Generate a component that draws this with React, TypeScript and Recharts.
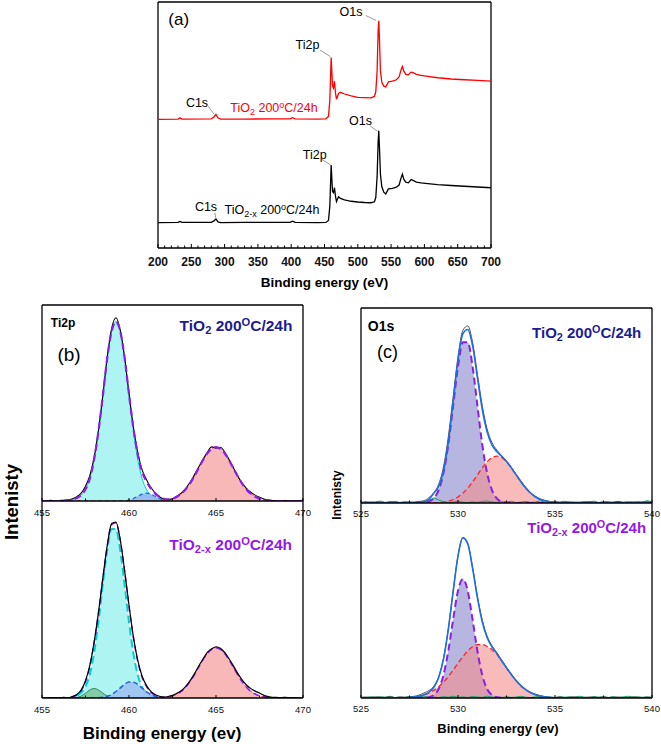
import React from "react";
import { ComposedChart, Line, Area, XAxis, YAxis, ReferenceLine } from "recharts";

const FONT = "'Liberation Sans', Arial, Helvetica, sans-serif";

// ---- (a) survey spectra ----
const surveyEnergy = [
  200, 230, 233, 236, 280, 284, 287, 290, 294, 330,
  370, 398, 402, 406, 440, 452, 456, 458, 460, 462,
  463.5, 465, 466.5, 468, 471, 474, 480, 490, 500, 510,
  520, 525, 527, 529, 530.5, 531.5, 532.5, 534, 536, 539,
  542, 546, 552, 558, 562, 565, 567, 569, 572, 576,
  580, 583, 588, 595, 605, 620, 640, 660, 680, 700,
];
const surveyTiO2 = [
  52.3, 52.4, 52.9, 52.4, 52.5, 53.2, 54.3, 52.9, 52.4, 52.4,
  52.5, 52.5, 53.0, 52.5, 52.4, 52.5, 53.5, 60, 77.4, 66,
  65, 67.8, 63, 60.5, 62.8, 63.3, 62.6, 61.8, 61.2, 61.1,
  61.0, 61.6, 63.5, 72, 88, 92.4, 85, 72, 67.5, 65.8,
  65.5, 67.5, 67.8, 68.4, 69.5, 72.5, 73.8, 72, 70.6, 70.4,
  71.5, 71.3, 70.6, 70.2, 69.8, 69.2, 68.7, 68.4, 68.1, 67.8,
];
const surveyTiO2x = [
  10.3, 10.4, 10.8, 10.4, 10.4, 11.0, 11.8, 10.6, 10.3, 10.4,
  10.4, 10.4, 10.9, 10.4, 10.3, 10.4, 11.2, 17, 33.7, 23,
  22.5, 24.5, 21, 18.9, 20.8, 20.2, 19.6, 19.0, 18.7, 18.5,
  18.4, 18.8, 20.5, 29, 43, 47.7, 41, 30, 25, 22.7,
  22, 24, 24.2, 24.7, 25.6, 28.5, 30, 28, 26.8, 26.5,
  27.8, 27.5, 26.8, 26.5, 26.2, 25.8, 25.4, 25.1, 24.8, 24.5,
];
const surveyTicks = [200, 250, 300, 350, 400, 450, 500, 550, 600, 650, 700];
const surveyMinorTicks = [
  200, 210, 220, 230, 240, 250, 260, 270, 280, 290, 300, 310, 320, 330, 340, 350, 360,
  370, 380, 390, 400, 410, 420, 430, 440, 450, 460, 470, 480, 490, 500, 510, 520, 530,
  540, 550, 560, 570, 580, 590, 600, 610, 620, 630, 640, 650, 660, 670, 680, 690, 700,
];
// peak label leader lines [x1, y1, x2, y2] in data units
const surveyLeaders = [
  [512, 94.5, 527.5, 92.5],
  [443.2, 80.5, 458.8, 77.8],
  [275.2, 57.7, 284.5, 54.3],
  [518.6, 49.6, 529.5, 47.5],
  [445.8, 36.1, 458.8, 33.8],
  [285.3, 14.3, 286.6, 12.3],
];

// ---- (b) Ti 2p ----
const tiEnergy = [
  455, 455.25, 455.5, 455.75, 456, 456.25, 456.5, 456.75, 457, 457.25,
  457.5, 457.75, 458, 458.25, 458.5, 458.75, 459, 459.25, 459.5, 459.75,
  460, 460.25, 460.5, 460.75, 461, 461.25, 461.5, 461.75, 462, 462.25,
  462.5, 462.75, 463, 463.25, 463.5, 463.75, 464, 464.25, 464.5, 464.75,
  465, 465.25, 465.5, 465.75, 466, 466.25, 466.5, 466.75, 467, 467.25,
  467.5, 467.75, 468, 468.25, 468.5, 468.75, 469, 469.25, 469.5, 469.75,
  470,
];
const tiTopRaw = [
  0.2, 0.1, 0.3, 0, 0.2, 0.4, 0.6, 1.2, 2.2, 4,
  7.5, 13, 22.5, 36.5, 54, 73.5, 88, 93.5, 87, 73,
  55, 38, 25, 16, 11, 7, 4.2, 2.2, 1.0, 0.7,
  1.1, 2.4, 4.0, 6.3, 9.4, 13.2, 17.2, 21.3, 24.8, 27.6,
  27.0, 27.4, 25.0, 21.2, 17.0, 12.8, 9.2, 6.5, 4.5, 3.0,
  1.9, 1.0, 0.5, 0.2, 0.1, 0, 0.2, 0.1, 0, 0.2,
  0.3,
];
const tiTopFit = [
  0, 0, 0, 0, 0, 0, 0.3, 0.7, 1.5, 3,
  6, 11.5, 21.5, 36, 54, 73, 86.5, 91.5, 86.5, 73,
  54.5, 37.3, 23.9, 15, 10, 6.5, 3.9, 2.1, 1.1, 0.8,
  1.2, 2.2, 3.7, 5.9, 8.9, 12.6, 16.7, 20.8, 24.3, 26.6,
  27.5, 26.6, 24.3, 20.8, 16.7, 12.6, 8.9, 5.9, 3.7, 2.2,
  1.2, 0.6, 0.3, 0.1, 0, 0, 0, 0, 0, 0,
  0,
];
const tiTopMain = [
  0, 0, 0, 0, 0, 0, 0.3, 0.7, 1.5, 3,
  6, 11.5, 21.5, 36, 54, 73, 86.5, 91.5, 86.5, 73,
  54, 36, 21.5, 11.5, 6, 3, 1.5, 0.7, 0.3, 0,
  0, 0, 0, 0, 0, 0, 0, 0, 0, 0,
  0, 0, 0, 0, 0, 0, 0, 0, 0, 0,
  0, 0, 0, 0, 0, 0, 0, 0, 0, 0,
  0,
];
const tiTopMinor = [
  0, 0, 0, 0, 0, 0, 0, 0, 0, 0,
  0, 0, 0, 0, 0, 0, 0, 0, 0, 0,
  0.5, 1.3, 2.4, 3.5, 4, 3.5, 2.4, 1.3, 0.5, 0.2,
  0, 0, 0, 0, 0, 0, 0, 0, 0, 0,
  0, 0, 0, 0, 0, 0, 0, 0, 0, 0,
  0, 0, 0, 0, 0, 0, 0, 0, 0, 0,
  0,
];
const tiTopSat = [
  0, 0, 0, 0, 0, 0, 0, 0, 0, 0,
  0, 0, 0, 0, 0, 0, 0, 0, 0, 0,
  0, 0, 0, 0, 0, 0, 0, 0.1, 0.3, 0.6,
  1.2, 2.2, 3.7, 5.9, 8.9, 12.6, 16.7, 20.8, 24.3, 26.6,
  27.5, 26.6, 24.3, 20.8, 16.7, 12.6, 8.9, 5.9, 3.7, 2.2,
  1.2, 0.6, 0.3, 0.1, 0, 0, 0, 0, 0, 0,
  0,
];
const tiBotRaw = [
  0.1, 0, 0.2, 0.1, 0, 0.3, 0.2, 0.8, 1.8, 4.2,
  9, 17, 29.5, 45, 63, 79.8, 91.2, 92, 82.5, 66.5,
  48.5, 32.2, 19.8, 11.5, 6.6, 3.5, 1.8, 0.9, 0.5, 0.8,
  1.4, 2.5, 3.8, 6.0, 9.0, 12.5, 16.6, 20.4, 23.8, 25.7,
  26.8, 26.0, 23.8, 20.5, 16.8, 12.9, 9.5, 6.8, 4.9, 3.6,
  2.6, 1.4, 0.8, 0.4, 0.3, 0.2, 0.4, 0.1, 0.2, 0,
  0.1,
];
const tiBotFit = [
  0, 0, 0, 0, 0, 0, 0, 0.5, 1.5, 3.8,
  8.5, 16.7, 29, 44.7, 62.7, 79.4, 90.6, 91.6, 82.2, 66.2,
  48.1, 31.7, 19.2, 10.9, 6.1, 3.0, 1.4, 0.65, 0.4, 0.6,
  1.1, 2.1, 3.5, 5.6, 8.5, 12, 16, 19.9, 23.2, 25.4,
  26.3, 25.4, 23.2, 19.9, 16, 12, 8.5, 5.6, 3.5, 2.1,
  1.1, 0.6, 0.3, 0.1, 0, 0, 0, 0, 0, 0,
  0,
];
const tiBotMain = [
  0, 0, 0, 0, 0, 0, 0, 0.5, 1.2, 2.8,
  6, 12.5, 24, 40.4, 59.8, 77.5, 88.5, 88.2, 76.9, 59,
  39.7, 23.4, 12.1, 5.7, 2.8, 1.2, 0.5, 0.2, 0, 0,
  0, 0, 0, 0, 0, 0, 0, 0, 0, 0,
  0, 0, 0, 0, 0, 0, 0, 0, 0, 0,
  0, 0, 0, 0, 0, 0, 0, 0, 0, 0,
  0,
];
const tiBotLow = [
  0, 0, 0, 0, 0, 0, 0, 0, 0.3, 1,
  2.5, 4.2, 5, 4.2, 2.5, 1, 0.3, 0, 0, 0,
  0, 0, 0, 0, 0, 0, 0, 0, 0, 0,
  0, 0, 0, 0, 0, 0, 0, 0, 0, 0,
  0, 0, 0, 0, 0, 0, 0, 0, 0, 0,
  0, 0, 0, 0, 0, 0, 0, 0, 0, 0,
  0,
];
const tiBotMinor = [
  0, 0, 0, 0, 0, 0, 0, 0, 0, 0,
  0, 0, 0, 0.1, 0.35, 0.9, 1.8, 3.4, 5.3, 7.2,
  8.4, 8.3, 7.1, 5.2, 3.3, 1.8, 0.9, 0.35, 0.1, 0,
  0, 0, 0, 0, 0, 0, 0, 0, 0, 0,
  0, 0, 0, 0, 0, 0, 0, 0, 0, 0,
  0, 0, 0, 0, 0, 0, 0, 0, 0, 0,
  0,
];
const tiBotSat = [
  0, 0, 0, 0, 0, 0, 0, 0, 0, 0,
  0, 0, 0, 0, 0, 0, 0, 0, 0, 0,
  0, 0, 0, 0, 0, 0, 0, 0.1, 0.3, 0.6,
  1.1, 2.1, 3.5, 5.6, 8.5, 12, 16, 19.9, 23.2, 25.4,
  26.3, 25.4, 23.2, 19.9, 16, 12, 8.5, 5.6, 3.5, 2.1,
  1.1, 0.6, 0.3, 0.1, 0, 0, 0, 0, 0, 0,
  0,
];
const tiTicks = [455, 460, 465, 470];
const tiMinorTicks = [455, 457.5, 460, 462.5, 465, 467.5, 470];

// ---- (c) O 1s ----
const oEnergy = [
  525, 525.25, 525.5, 525.75, 526, 526.25, 526.5, 526.75, 527, 527.25,
  527.5, 527.75, 528, 528.25, 528.5, 528.75, 529, 529.25, 529.5, 529.75,
  530, 530.25, 530.5, 530.75, 531, 531.25, 531.5, 531.75, 532, 532.25,
  532.5, 532.75, 533, 533.25, 533.5, 533.75, 534, 534.25, 534.5, 534.75,
  535, 535.25, 535.5, 535.75, 536, 536.25, 536.5, 536.75, 537, 537.25,
  537.5, 537.75, 538, 538.25, 538.5, 538.75, 539, 539.25, 539.5, 539.75,
  540,
];
const oTopRaw = [
  0.4, 0.2, 0.6, 0.3, 0.5, 0.2, 0.7, 0.4, 0.3, 0.6,
  0.2, 0.5, 0.8, 1.2, 2.8, 5.2, 9.5, 18.5, 34, 54.5,
  75, 88.5, 90.8, 82.5, 66, 50, 38, 31, 27.2, 24.3,
  21.6, 18.3, 14.6, 11.2, 8.0, 5.3, 3.4, 2.1, 1.3, 0.8,
  0.5, 0.3, 0.4, 0.6, 0.2, 0.5, 0.3, 0.7, 0.4, 0.2,
  0.6, 0.3, 0.5, 0.8, 0.3, 0.4, 0.6, 0.2, 0.5, 0.7,
  0.4,
];
const oTopFit = [
  0, 0, 0, 0, 0, 0, 0, 0, 0, 0,
  0, 0, 0, 0.5, 1.9, 5.0, 8.4, 16.3, 31, 51.8,
  73.1, 86.8, 89, 80.8, 64.4, 48, 36.5, 29.8, 26.4, 23.9,
  21.3, 18, 14.4, 10.8, 7.6, 5.0, 3.1, 1.8, 1.0, 0.5,
  0.25, 0.1, 0, 0, 0, 0, 0, 0, 0, 0,
  0, 0, 0, 0, 0, 0, 0, 0, 0, 0,
  0,
];
const oTopLattice = [
  0, 0, 0, 0, 0, 0, 0, 0, 0, 0,
  0, 0, 0, 0.2, 0.7, 2.4, 6.6, 15.4, 30, 50,
  70, 82.5, 82.5, 70, 50, 30, 15.4, 6.6, 2.4, 0.7,
  0.2, 0, 0, 0, 0, 0, 0, 0, 0, 0,
  0, 0, 0, 0, 0, 0, 0, 0, 0, 0,
  0, 0, 0, 0, 0, 0, 0, 0, 0, 0,
  0,
];
const oTopHydroxyl = [
  0, 0, 0, 0, 0, 0, 0, 0, 0, 0,
  0, 0, 0, 0, 0, 0.1, 0.25, 0.5, 1.0, 1.8,
  3.1, 5.0, 7.6, 10.8, 14.4, 18, 21.1, 23.2, 24, 23.2,
  21.1, 18, 14.4, 10.8, 7.6, 5.0, 3.1, 1.8, 1.0, 0.5,
  0.25, 0.1, 0, 0, 0, 0, 0, 0, 0, 0,
  0, 0, 0, 0, 0, 0, 0, 0, 0, 0,
  0,
];
const oTopGreen = [
  0.3, 0.8, 0.2, 0.6, 1.0, 0.3, 0.5, 0.9, 0.2, 0.4,
  0.7, 0.3, 0.8, 0.6, 1.4, 2.6, 1.6, 0.6, 0.3, 0.5,
  0.9, 0.4, 0.2, 0.6, 0.3, 0.8, 1.0, 0.5, 0.3, 0.7,
  0.4, 0.9, 0.2, 0.5, 0.8, 0.3, 0.6, 1.1, 0.4, 0.2,
  0.7, 0.5, 0.9, 0.3, 0.6, 0.2, 0.8, 0.4, 1.0, 0.3,
  0.5, 0.7, 0.2, 0.9, 0.4, 0.6, 0.3, 0.8, 0.5, 1.2,
  0.6,
];
const oBotRaw = [
  0.3, 0.5, 0.2, 0.6, 0.4, 0.3, 0.7, 0.2, 0.5, 0.4,
  0.6, 0.9, 1.5, 2.6, 3.8, 6.0, 10.8, 20.3, 35.5, 55,
  73, 82.3, 79.5, 67.2, 52.2, 40, 31.8, 26.8, 23.3, 19.4,
  15.7, 12.3, 9.1, 6.5, 4.4, 2.9, 1.9, 1.2, 0.7, 0.4,
  0.3, 0.5, 0.2, 0.4, 0.6, 0.3, 0.2, 0.5, 0.4, 0.3,
  0.6, 0.2, 0.4, 0.5, 0.3, 0.2, 0.6, 0.4, 0.3, 0.5,
  0.2,
];
const oBotFit = [
  0, 0, 0, 0, 0, 0, 0, 0, 0, 0,
  0.2, 0.5, 0.9, 1.7, 2.9, 5.4, 10.4, 19.8, 35.1, 54.6,
  72.8, 82.1, 79.1, 66.6, 51.5, 39.1, 31.0, 26.3, 22.9, 19.1,
  15.5, 12.0, 8.8, 6.2, 4.2, 2.7, 1.7, 1.0, 0.5, 0.2,
  0, 0, 0, 0, 0, 0, 0, 0, 0, 0,
  0, 0, 0, 0, 0, 0, 0, 0, 0, 0,
  0,
];
const oBotLattice = [
  0, 0, 0, 0, 0, 0, 0, 0, 0, 0,
  0, 0, 0, 0.1, 0.4, 1.5, 4.6, 11.7, 24.1, 40.3,
  55, 61, 55, 40.3, 24.1, 11.7, 4.6, 1.5, 0.4, 0.1,
  0, 0, 0, 0, 0, 0, 0, 0, 0, 0,
  0, 0, 0, 0, 0, 0, 0, 0, 0, 0,
  0, 0, 0, 0, 0, 0, 0, 0, 0, 0,
  0,
];
const oBotHydroxyl = [
  0, 0, 0, 0, 0, 0, 0, 0, 0, 0,
  0.2, 0.5, 0.9, 1.6, 2.5, 3.9, 5.8, 8.1, 11.0, 14.3,
  17.8, 21.1, 24.1, 26.3, 27.4, 27.4, 26.4, 24.8, 22.5, 19.0,
  15.5, 12.0, 8.8, 6.2, 4.2, 2.7, 1.7, 1.0, 0.5, 0.2,
  0, 0, 0, 0, 0, 0, 0, 0, 0, 0,
  0, 0, 0, 0, 0, 0, 0, 0, 0, 0,
  0,
];
const oBotGreen = [
  0.5, 0.2, 0.7, 0.3, 0.6, 0.4, 0.9, 0.2, 0.5, 0.3,
  0.8, 0.4, 0.6, 1.0, 0.3, 0.5, 0.2, 0.7, 0.4, 0.9,
  0.3, 0.6, 0.2, 0.8, 0.5, 0.3, 1.0, 0.4, 0.6, 0.2,
  0.7, 0.3, 0.5, 0.9, 0.4, 0.2, 0.6, 0.8, 0.3, 0.5,
  0.2, 0.7, 0.4, 0.6, 0.3, 0.9, 0.5, 0.2, 0.8, 0.4,
  0.6, 0.3, 0.7, 0.2, 0.5, 0.9, 0.4, 0.6, 0.3, 0.5,
  0.4,
];
const oTicks = [525, 530, 535, 540];
const oMinorTicks = [525, 527.5, 530, 532.5, 535, 537.5, 540];

const surveyData = surveyEnergy.map((e, i) => ({ e, tio2: surveyTiO2[i], tio2x: surveyTiO2x[i] }));
const tiTopData = tiEnergy.map((e, i) => ({
  e, raw: tiTopRaw[i], fit: tiTopFit[i], main: tiTopMain[i], minor: tiTopMinor[i], sat: tiTopSat[i],
}));
const tiBotData = tiEnergy.map((e, i) => ({
  e, raw: tiBotRaw[i], fit: tiBotFit[i], main: tiBotMain[i], low: tiBotLow[i], minor: tiBotMinor[i], sat: tiBotSat[i],
}));
const oTopData = oEnergy.map((e, i) => ({
  e, raw: oTopRaw[i], fit: oTopFit[i], lat: oTopLattice[i], hyd: oTopHydroxyl[i], green: oTopGreen[i],
}));
const oBotData = oEnergy.map((e, i) => ({
  e, raw: oBotRaw[i], fit: oBotFit[i], lat: oBotLattice[i], hyd: oBotHydroxyl[i], green: oBotGreen[i],
}));

const NAVY = "#1b1b93";
const VIOLET = "#9418e6";

function axisTick(labels: number[], fontSize: number, bold: boolean, gap: number, major: number, minor: number) {
  return (props: any) => {
    const { x, y, payload } = props;
    const isMajor = labels.includes(payload.value);
    return (
      <g>
        <line x1={x} x2={x} y1={y} y2={y - (isMajor ? major : minor)} stroke="#000" strokeWidth={1} />
        {isMajor && (
          <text x={x} y={y + gap} textAnchor="middle" dominantBaseline="central" fontSize={fontSize}
            fontWeight={bold ? 700 : 400} fontFamily={FONT} fill="#111">
            {payload.value}
          </text>
        )}
      </g>
    );
  };
}

const border = { stroke: "#000", strokeWidth: 1.3 };

function frame(xDomain: number[], yMax: number, minor: number[], axisHeight: number, tick: any, closedTop: boolean) {
  const out = [
    <XAxis key="x" dataKey="e" type="number" domain={xDomain} ticks={minor} interval={0} tickLine={false}
      tickSize={0} tickMargin={0} tick={tick} axisLine={border} height={axisHeight} allowDataOverflow />,
    <YAxis key="y" hide type="number" domain={[0, yMax]} allowDataOverflow />,
    <ReferenceLine key="l" x={xDomain[0]} {...border} />,
    <ReferenceLine key="r" x={xDomain[1]} {...border} />,
  ];
  if (closedTop) out.push(<ReferenceLine key="t" y={yMax} {...border} />);
  return out;
}

const common = { isAnimationActive: false, dot: false, activeDot: false } as const;

function Txt(props: { x: number; y: number; size: number; bold?: boolean; color?: string; rotate?: number; children: React.ReactNode }) {
  const { x, y, size, bold, color, rotate, children } = props;
  return (
    <div style={{
      position: "absolute", left: x, top: y,
      transform: "translate(-50%, -50%)" + (rotate ? ` rotate(${rotate}deg)` : ""),
      fontSize: size, fontWeight: bold ? 700 : 400, color: color ?? "#000",
      whiteSpace: "nowrap", lineHeight: 1, fontFamily: FONT,
    }}>
      {children}
    </div>
  );
}
const Sub = ({ children }: { children: React.ReactNode }) => (
  <span style={{ fontSize: "0.72em", position: "relative", top: "0.3em" }}>{children}</span>
);
const Sup = ({ children }: { children: React.ReactNode }) => (
  <span style={{ fontSize: "0.72em", position: "relative", top: "-0.45em" }}>{children}</span>
);

const tiTick = axisTick(tiTicks, 9.5, false, 11.5, 3, 2.5);
const oTick = axisTick(oTicks, 9.5, false, 10.5, 3, 2.5);

export default function App() {
  return (
    <div style={{ position: "absolute", left: 0, top: 0, width: 661, height: 744, background: "#fff", fontFamily: FONT }}>
      {/* (a) survey */}
      <div style={{ position: "absolute", left: 0, top: 0 }}>
        <ComposedChart width={661} height={300} data={surveyData} margin={{ top: 2, right: 170, bottom: 0, left: 158 }}>
          {frame([200, 700], 100, surveyMinorTicks, 52, axisTick(surveyTicks, 12, true, 14, 4, 2.5), true)}
          {surveyLeaders.map((s, i) => (
            <ReferenceLine key={"ld" + i} segment={[{ x: s[0], y: s[1] }, { x: s[2], y: s[3] }]} stroke="#8c8c8c" strokeWidth={0.9} />
          ))}
          <Line dataKey="tio2" type="linear" stroke="#ff0000" strokeWidth={1.3} {...common} />
          <Line dataKey="tio2x" type="linear" stroke="#000" strokeWidth={1.3} {...common} />
        </ComposedChart>
      </div>

      {/* (b) Ti 2p top */}
      <div style={{ position: "absolute", left: 0, top: 290 }}>
        <ComposedChart width={330} height={240} data={tiTopData} margin={{ top: 15, right: 27, bottom: 0, left: 42 }}>
          {frame([455, 470], 100, tiMinorTicks, 29, tiTick, true)}
          <Area dataKey="main" type="monotone" fill="#a5f3f1" fillOpacity={0.9} stroke="#00cccc" strokeWidth={1} {...common} />
          <Area dataKey="minor" type="monotone" fill="#8fb4ee" fillOpacity={0.85} stroke="#1f5fd0" strokeWidth={1.2} strokeDasharray="4 3" {...common} />
          <Area dataKey="sat" type="monotone" fill="#f7b0b0" fillOpacity={0.9} stroke="#ff4040" strokeWidth={1} strokeDasharray="4 3" {...common} />
          <Line dataKey="raw" type="monotone" stroke="#000" strokeWidth={1.1} {...common} />
          <Line dataKey="fit" type="monotone" stroke="#8a1ee6" strokeWidth={2.2} strokeDasharray="7 4" {...common} />
        </ComposedChart>
      </div>

      {/* (b) Ti 2p bottom */}
      <div style={{ position: "absolute", left: 0, top: 480 }}>
        <ComposedChart width={330} height={264} data={tiBotData} margin={{ top: 21, right: 27, bottom: 0, left: 42 }}>
          {frame([455, 470], 103, tiMinorTicks, 46, tiTick, false)}
          <Area dataKey="main" type="monotone" fill="#a5f3f1" fillOpacity={0.9} stroke="#00d0d0" strokeWidth={2} strokeDasharray="8 4" {...common} />
          <Area dataKey="low" type="monotone" fill="#7cc49a" fillOpacity={0.85} stroke="#2e8b57" strokeWidth={1} {...common} />
          <Area dataKey="minor" type="monotone" fill="#9dbdf2" fillOpacity={0.85} stroke="#1f5fd0" strokeWidth={1.5} strokeDasharray="5 3" {...common} />
          <Area dataKey="sat" type="monotone" fill="#f7b0b0" fillOpacity={0.9} stroke="#ff4040" strokeWidth={1} strokeDasharray="4 3" {...common} />
          <Line dataKey="fit" type="monotone" stroke="#8a1ee6" strokeWidth={1.5} strokeDasharray="6 4" {...common} />
          <Line dataKey="raw" type="monotone" stroke="#000" strokeWidth={1.2} {...common} />
        </ComposedChart>
      </div>

      {/* (c) O 1s top */}
      <div style={{ position: "absolute", left: 330, top: 290 }}>
        <ComposedChart width={331} height={240} data={oTopData} margin={{ top: 18, right: 9, bottom: 0, left: 31 }}>
          {frame([525, 540], 100, oMinorTicks, 27, oTick, true)}
          <Area dataKey="lat" type="monotone" fill="#aeaedd" fillOpacity={0.9} stroke="none" {...common} />
          <Area dataKey="hyd" type="monotone" fill="#f58c8c" fillOpacity={0.6} stroke="#ff2020" strokeWidth={1.3} strokeDasharray="5 3" {...common} />
          <Line dataKey="green" type="linear" stroke="#17a06a" strokeWidth={1} {...common} />
          <Line dataKey="lat" type="monotone" stroke="#8a1ee6" strokeWidth={2} strokeDasharray="7 4" {...common} />
          <Line dataKey="raw" type="monotone" stroke="#555" strokeWidth={1} {...common} />
          <Line dataKey="fit" type="monotone" stroke="#1b6fe0" strokeWidth={1.6} {...common} />
        </ComposedChart>
      </div>

      {/* (c) O 1s bottom */}
      <div style={{ position: "absolute", left: 330, top: 480 }}>
        <ComposedChart width={331} height={264} data={oBotData} margin={{ top: 23, right: 9, bottom: 0, left: 31 }}>
          {frame([525, 540], 100, oMinorTicks, 46, oTick, false)}
          <Area dataKey="lat" type="monotone" fill="#aeaedd" fillOpacity={0.9} stroke="none" {...common} />
          <Area dataKey="hyd" type="monotone" fill="#f58c8c" fillOpacity={0.6} stroke="#ff2020" strokeWidth={1.3} strokeDasharray="5 3" {...common} />
          <Line dataKey="green" type="linear" stroke="#17a06a" strokeWidth={1} {...common} />
          <Line dataKey="lat" type="monotone" stroke="#8a1ee6" strokeWidth={2} strokeDasharray="7 4" {...common} />
          <Line dataKey="raw" type="monotone" stroke="#555" strokeWidth={1} {...common} />
          <Line dataKey="fit" type="monotone" stroke="#1b6fe0" strokeWidth={1.6} {...common} />
        </ComposedChart>
      </div>

      {/* (a) labels */}
      <Txt x={178.7} y={19} size={17}>(a)</Txt>
      <Txt x={351} y={12} size={12.5}>O1s</Txt>
      <Txt x={307.5} y={45} size={12.5}>Ti2p</Txt>
      <Txt x={197} y={102.7} size={12.5}>C1s</Txt>
      <Txt x={274} y={108} size={12.5} color="#ff0000">TiO<Sub>2</Sub> 200<Sup>o</Sup>C/24h</Txt>
      <Txt x={360.5} y={120.5} size={12.5}>O1s</Txt>
      <Txt x={314.7} y={155} size={12.5}>Ti2p</Txt>
      <Txt x={206} y={206.7} size={12.5}>C1s</Txt>
      <Txt x={272} y={210} size={12.5}>TiO<Sub>2-x</Sub> 200<Sup>o</Sup>C/24h</Txt>
      <Txt x={324.5} y={283} size={13.5} bold>Binding energy (eV)</Txt>

      {/* (b) labels */}
      <Txt x={63} y={323} size={12} bold>Ti2p</Txt>
      <Txt x={236} y={326} size={15.5} bold color={NAVY}>TiO<Sub>2</Sub> 200<Sup>O</Sup>C/24h</Txt>
      <Txt x={69} y={354} size={19}>(b)</Txt>
      <Txt x={230.7} y={545} size={15.5} bold color={VIOLET}>TiO<Sub>2-x</Sub> 200<Sup>O</Sup>C/24h</Txt>
      <Txt x={11.5} y={502} size={18.5} bold rotate={-90}>Intenisty</Txt>
      <Txt x={162} y={733} size={17} bold>Binding energy (ev)</Txt>

      {/* (c) labels */}
      <Txt x={381} y={326} size={14} bold>O1s</Txt>
      <Txt x={387.5} y={352} size={18}>(c)</Txt>
      <Txt x={586.7} y={332} size={15} bold color={NAVY}>TiO<Sub>2</Sub> 200<Sup>O</Sup>C/24h</Txt>
      <Txt x={586.7} y={527} size={15} bold color={VIOLET}>TiO<Sub>2-x</Sub> 200<Sup>O</Sup>C/24h</Txt>
      <Txt x={337} y={495} size={12} bold rotate={-90}>Intenisty</Txt>
      <Txt x={498} y={728} size={13} bold>Binding energy (ev)</Txt>
    </div>
  );
}
